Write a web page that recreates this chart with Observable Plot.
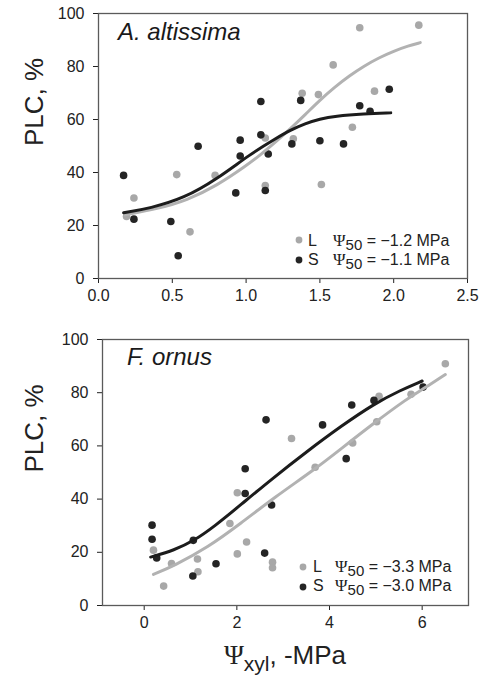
<!DOCTYPE html>
<html><head><meta charset="utf-8">
<script src="https://cdn.jsdelivr.net/npm/d3@7"></script>
<script src="https://cdn.jsdelivr.net/npm/@observablehq/plot@0.6"></script>
<style>
body{margin:0;background:#fff;}
#chart svg{display:block;}
</style></head><body><div id="chart"></div>
<script>
// ---------- data ----------
const yTicks = [0, 20, 40, 60, 80, 100];
const topXTicks = [0, 0.5, 1.0, 1.5, 2.0, 2.5];
const bottomXTicks = [0, 2, 4, 6];
const speciesNames = ["A. altissima", "F. ornus"];
const legendKeys = ["L", "S"];
const topPsi50 = ["\u22121.2", "\u22121.1"];
const bottomPsi50 = ["\u22123.3", "\u22123.0"];
const yTitle = "PLC, %";

// A. altissima – L (grey) points
const topLx = [0.19,0.24,0.53,0.62,0.79,1.13,1.13,1.32,1.38,1.49,1.51,1.59,1.72,1.77,1.87,2.17];
const topLy = [23.4,30.4,39.2,17.6,38.9,53.0,35.1,52.7,69.9,69.4,35.5,80.6,57.1,94.6,70.7,95.6];
// A. altissima – S (black) points
const topSx = [0.17,0.24,0.49,0.54,0.675,0.93,0.96,0.96,1.10,1.10,1.13,1.15,1.31,1.37,1.50,1.66,1.77,1.84,1.97];
const topSy = [38.9,22.4,21.5,8.6,49.9,32.3,46.2,52.2,54.2,66.8,33.2,47.0,50.8,67.2,52.0,50.8,65.2,63.1,71.4];
// A. altissima fitted curves
const topLcx = [0.18,0.4,0.6,0.8,1.0,1.1,1.2,1.3,1.4,1.5,1.6,1.7,1.8,1.9,2.0,2.1,2.18];
const topLcy = [24,26.3,29.5,35,42.5,46.8,51.5,56.5,61.8,67.3,72.2,76.5,80.2,83.3,85.8,87.8,89];
const topScx = [0.17,0.35,0.58,0.8,1.03,1.2,1.3,1.4,1.5,1.6,1.8,1.98];
const topScy = [24.8,26.5,30.3,37.4,47,52.8,56,58.5,60.2,61.3,62.2,62.5];

// F. ornus – L (grey) points
const botLx = [0.20,0.42,0.59,1.15,1.16,1.85,2.01,2.01,2.21,2.77,2.77,3.18,3.69,4.50,5.02,5.07,5.76,6.50];
const botLy = [20.8,7.3,15.8,17.5,12.7,30.8,42.4,19.4,23.9,16.3,14.2,62.8,52.0,61.1,69.1,78.6,79.4,90.9];
// F. ornus – S (black) points
const botSx = [0.17,0.17,0.27,1.05,1.06,1.55,2.18,2.18,2.60,2.63,2.75,3.85,4.36,4.48,4.96,6.02];
const botSy = [30.2,24.9,17.9,11.1,24.5,15.7,51.4,42.1,19.7,69.8,37.8,67.9,55.2,75.4,77.1,82.1];
// F. ornus fitted curves
const botLcx = [0.20,0.65,1.37,2.08,2.80,3.69,4.24,4.96,5.68,6.0,6.50];
const botLcy = [11.7,15.0,21.8,30.8,40.5,51.3,58.8,68.6,77.8,81.2,86.8];
const botScx = [0.14,0.65,1.08,1.52,2.08,2.75,3.52,4.24,4.96,5.53,6.0];
const botScy = [18.2,20.8,24.4,29.8,37.8,47.5,58.0,67.3,75.8,80.9,84.4];

// ---------- drawing ----------
const zip = (xs, ys) => xs.map((x, i) => ({x, y: ys[i]}));
const GREY_DOT = "#a8a8a8", BLACK_DOT = "#242424";
const GREY_LINE = "#b2b2b2", BLACK_LINE = "#1c1c1c";
const FONT = "'Liberation Sans', Arial, Helvetica, sans-serif";
const SERIF = "'Liberation Serif', 'DejaVu Serif', serif";

function panel(o) {
  const plot = Plot.plot({
    width: 491, height: o.height,
    marginTop: o.mt, marginBottom: o.mb, marginLeft: o.ml, marginRight: o.mr,
    style: {fontFamily: FONT, fontSize: "16px", color: "#222", background: "white", overflow: "visible"},
    x: {domain: o.xDomain, ticks: o.xTicks, tickFormat: o.xFmt, tickSize: 5, tickPadding: 6, label: null},
    y: {domain: [0, 100], ticks: yTicks, tickSize: 5, tickPadding: 9, label: null},
    marks: [
      Plot.dot(zip(o.Lx, o.Ly), {x: "x", y: "y", r: 3.8, fill: GREY_DOT}),
      Plot.dot(zip(o.Sx, o.Sy), {x: "x", y: "y", r: 3.8, fill: BLACK_DOT}),
      Plot.line(zip(o.Lcx, o.Lcy), {x: "x", y: "y", stroke: GREY_LINE, strokeWidth: 3, curve: "basis"}),
      Plot.line(zip(o.Scx, o.Scy), {x: "x", y: "y", stroke: BLACK_LINE, strokeWidth: 3, curve: "basis"}),
      Plot.frame({stroke: "#5a5a5a", strokeWidth: 1.3}),
      Plot.text([yTitle], {text: d => d, frameAnchor: "left", dx: o.titleDx, rotate: -90, fontSize: 26, fill: "#222"})
    ]
  });
  const svg = d3.select(plot);
  // species name
  svg.append("text").attr("x", o.nameX).attr("y", o.nameY).attr("text-anchor", "start")
    .attr("font-family", FONT).attr("font-style", "italic").attr("font-size", 24).attr("fill", "#1a1a1a")
    .text(o.name);
  // legend
  const right = 491 - o.mr;
  o.legRows.forEach((row, i) => {
    svg.append("circle").attr("cx", right - o.legDot).attr("cy", row.cy).attr("r", 3.4)
      .attr("fill", i === 0 ? GREY_DOT : BLACK_DOT);
    svg.append("text").attr("x", right - o.legKey).attr("y", row.base).attr("text-anchor", "start")
      .attr("font-family", FONT).attr("font-size", 16).attr("fill", "#222").text(legendKeys[i]);
    const t = svg.append("text").attr("x", right - o.legPsi).attr("y", row.base).attr("text-anchor", "start")
      .attr("font-family", FONT).attr("font-size", 16).attr("fill", "#222");
    t.append("tspan").attr("font-family", SERIF).attr("font-size", 17).text("\u03A8");
    t.append("tspan").attr("dy", 4).attr("font-size", 15).text("50");
    t.append("tspan").attr("dy", -4).text(" = " + o.psi[i] + " MPa");
  });
  return plot;
}

const topPlot = panel({
  height: 320, mt: 13, mb: 42, ml: 98, mr: 24,
  xDomain: [0, 2.5], xTicks: topXTicks, xFmt: d3.format(".1f"),
  Lx: topLx, Ly: topLy, Sx: topSx, Sy: topSy,
  Lcx: topLcx, Lcy: topLcy, Scx: topScx, Scy: topScy,
  titleDx: -64, name: speciesNames[0], nameX: 118, nameY: 40,
  legDot: 168, legKey: 159, legPsi: 134, psi: topPsi50,
  legRows: [{cy: 240, base: 246}, {cy: 260, base: 265}]
});

const botPlot = panel({
  height: 356, mt: 19, mb: 71, ml: 102, mr: 23,
  xDomain: [-0.9, 7], xTicks: bottomXTicks, xFmt: d3.format("d"),
  Lx: botLx, Ly: botLy, Sx: botSx, Sy: botSy,
  Lcx: botLcx, Lcy: botLcy, Scx: botScx, Scy: botScy,
  titleDx: -68, name: speciesNames[1], nameX: 127, nameY: 45,
  legDot: 165, legKey: 155, legPsi: 133, psi: bottomPsi50,
  legRows: [{cy: 247, base: 252}, {cy: 267, base: 271}]
});

// x-axis title with subscript
const bs = d3.select(botPlot);
const xt = bs.append("text").attr("x", (102 + 468) / 2).attr("y", 344).attr("text-anchor", "middle")
  .attr("font-family", FONT).attr("font-size", 26).attr("fill", "#222");
xt.append("tspan").attr("font-family", SERIF).attr("font-size", 27).text("\u03A8");
xt.append("tspan").attr("dy", 7).attr("font-size", 21).text("xyl");
xt.append("tspan").attr("dy", -7).text(", -MPa");

document.getElementById("chart").append(topPlot, botPlot);
</script>
</body></html>
